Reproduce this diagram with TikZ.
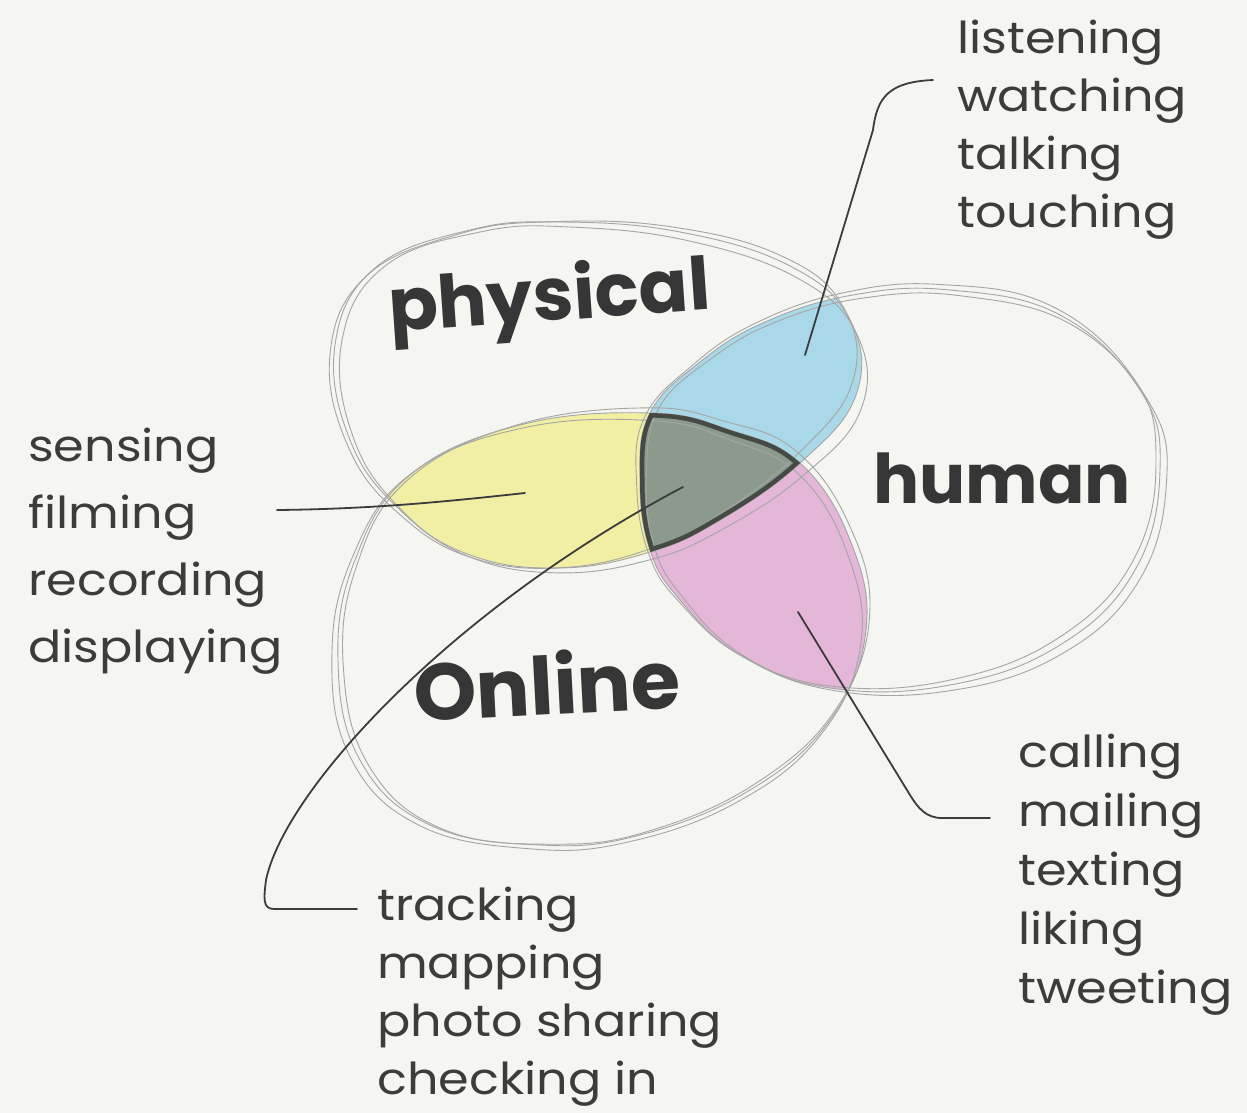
\documentclass[tikz,border=0pt]{standalone}
\usepackage{fontspec}
\newfontfamily\handfont{Poppins}[FakeStretch=1.12]
\newfontfamily\markerfont{Poppins}
\definecolor{bg}{HTML}{F5F5F1}
\definecolor{ink}{HTML}{3C3C3C}
\definecolor{marker}{HTML}{363636}
\definecolor{outlinegray}{HTML}{A5A5A5}
\definecolor{blueM}{HTML}{A9D9E8}
\definecolor{yellowM}{HTML}{F1EFA3}
\definecolor{pinkM}{HTML}{E4B6D8}
\definecolor{triFill}{HTML}{8C9A8E}
\definecolor{triLine}{HTML}{454A45}
\newcommand\shapeP[1]{\path[#1] plot[smooth cycle, tension=0.7] coordinates {(335,345) (375,268) (470,230) (560,222) (680,232) (790,266) (850,320) (856,395) (800,463) (720,520) (650,552) (560,568) (470,555) (400,510) (350,440)};}
\newcommand\shapeO[1]{\path[#1] plot[smooth cycle, tension=0.7] coordinates {(410,475) (520,425) (650,413) (730,430) (800,463) (850,540) (866,630) (830,720) (750,790) (640,835) (540,845) (430,825) (360,760) (338,660) (355,560)};}
\newcommand\shapeH[1]{\path[#1] plot[smooth cycle, tension=0.7] coordinates {(650,413) (700,362) (765,322) (853,295) (950,290) (1060,315) (1140,390) (1160,470) (1135,570) (1060,645) (950,685) (830,688) (740,655) (680,600) (650,550) (640,480)};}
\tikzset{
  outline/.style={draw=outlinegray, line width=0.9pt},
  handtext/.style={font={\handfont\fontsize{44}{58}\selectfont}, text=ink, align=left, inner sep=0pt, anchor=north west},
  bigtext/.style={text=marker, inner sep=0pt, anchor=base west},
  leader/.style={draw=ink, line width=1.8pt, line cap=round, line join=round},
}
\begin{document}
\begin{tikzpicture}[x=1pt, y=-1pt]
\fill[bg] (0,0) rectangle (1247,1113);
\useasboundingbox (0,0) rectangle (1247,1113);
% marker fills
\begin{scope}\shapeP{clip}\shapeH{clip}\fill[blueM] (600,250) rectangle (900,500);\end{scope}
\begin{scope}\shapeP{clip}\shapeO{clip}\fill[yellowM] (330,380) rectangle (700,600);\end{scope}
\begin{scope}\shapeH{clip}\shapeO{clip}\fill[pinkM] (600,400) rectangle (900,720);\end{scope}
\begin{scope}\shapeP{clip}\shapeO{clip}\shapeH{fill=triFill}\end{scope}
% sketchy outlines
\shapeP{outline}
\shapeP{outline, rotate around={2.5:(595,395)}, shift={(-3,-2)}}
\shapeP{outline, rotate around={-2:(595,395)}, shift={(5,6)}}
\shapeO{outline}
\shapeO{outline, rotate around={2.5:(600,630)}, shift={(4,-3)}}
\shapeO{outline, rotate around={-2:(600,630)}, shift={(-5,6)}}
\shapeH{outline}
\shapeH{outline, rotate around={2:(900,490)}, shift={(-3,-4)}}
\shapeH{outline, rotate around={-2:(900,490)}, shift={(6,4)}}
% triangle outline
\begin{scope}\shapeP{clip}\shapeO{clip}\shapeH{clip}
\shapeH{draw=triLine, line width=9pt}\shapeO{draw=triLine, line width=9pt}\shapeP{draw=triLine, line width=9pt}
\end{scope}
% big labels
\node[bigtext, font={\markerfont\bfseries\fontsize{73}{80}\selectfont}, rotate=4] (physical) at (390,332) {physical};
\node[bigtext, font={\markerfont\bfseries\fontsize{68.5}{80}\selectfont}] (human) at (873,503) {human};
\node[bigtext, font={\markerfont\bfseries\fontsize{80}{84}\selectfont}, rotate=3] (online) at (415,722) {Online};
% small labels
\node[handtext] (listen) at (957,20) {listening\\watching\\talking\\touching};
\node[handtext, font={\handfont\fontsize{44}{67}\selectfont}] (sense) at (28,428) {sensing\\filming\\recording\\displaying};
\node[handtext] (track) at (377,887) {tracking\\mapping\\photo sharing\\checking in};
\node[handtext, font={\handfont\fontsize{44}{59}\selectfont}] (call) at (1018,734) {calling\\mailing\\texting\\liking\\tweeting};
% connector ends
\coordinate (c1s) at (933,80);
\coordinate (c1e) at (805,355);
\coordinate (c2s) at (277,510);
\coordinate (c2e) at (525,493);
\coordinate (c3s) at (357,909);
\coordinate (c3e) at (683,487);
\coordinate (c4s) at (990,818);
\coordinate (c4e) at (798,612);
\draw[leader] (c1s) .. controls (888,82) and (877,98) .. (873,130) -- (c1e);
\draw[leader] (c2s) .. controls (380,509) and (460,500) .. (c2e);
\draw[leader] (c3s) -- (274,909) .. controls (262,909) and (264,897) .. (266,880) .. controls (285,790) and (450,610) .. (c3e);
\draw[leader] (c4s) -- (942,818) .. controls (926,818) and (918,808) .. (910,795) -- (c4e);
\end{tikzpicture}
\end{document}
